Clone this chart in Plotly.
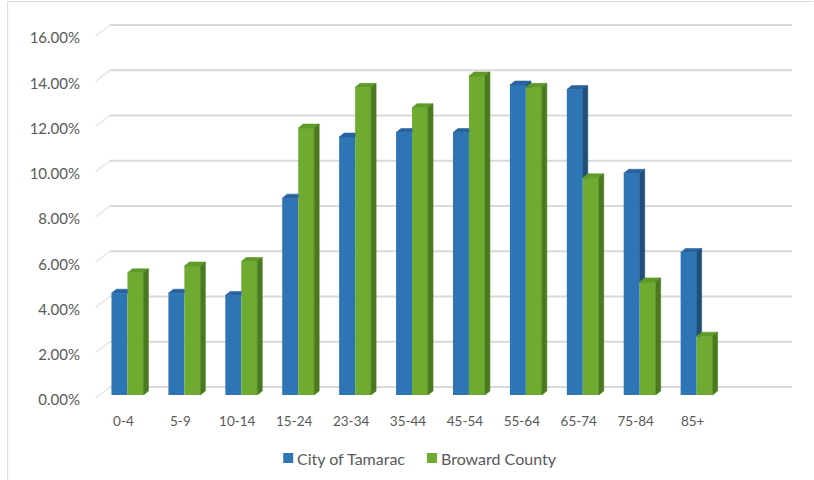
import plotly.graph_objects as go

# Age distribution, share of population (%)
age_groups = ["0-4", "5-9", "10-14", "15-24", "23-34", "35-44",
              "45-54", "55-64", "65-74", "75-84", "85+"]
tamarac = [4.5, 4.5, 4.4, 8.7, 11.4, 11.6, 11.6, 13.7, 13.5, 9.8, 6.3]
broward = [5.4, 5.7, 5.9, 11.8, 13.6, 12.7, 14.1, 13.6, 9.6, 5.0, 2.6]
series_names = ["City of Tamarac", "Broward County"]
y_ticks = [0, 2, 4, 6, 8, 10, 12, 14, 16]
y_tick_text = ["%.2f%%" % v for v in y_ticks]

# page / plot geometry (pixels)
W_PX, H_PX = 814, 480
L, R, T, B = 98.5, 782.5, 33.0, 395.0
PW, PH = R - L, B - T
N_SLOTS = 12
Y_MAX = 16
ux = PW / N_SLOTS          # px per category unit
uy = PH / Y_MAX            # px per percent

BAR_W = 16 / ux            # front face width of one bar
DX = 5 / ux                # bar depth (x)
DY = 4 / uy                # bar depth (y)

BLUE = dict(front="#2E75B6", top="#26639F", side="#1F4E79")
GREEN = dict(front="#6EAB30", top="#5E9A28", side="#4B7A1E")
GRID = "#d9d9d9"
TEXT = "#595959"
FONT = "Lato"


def px_x(px):
    return (px - L) / PW


def px_y(py):
    return (B - py) / PH


x_pos = list(range(len(age_groups)))

fig = go.Figure()

# front faces of the columns
fig.add_trace(go.Bar(x=x_pos, y=tamarac, width=BAR_W, offset=-BAR_W,
                     marker=dict(color=BLUE["front"], line=dict(width=0)),
                     name=series_names[0], showlegend=False))
fig.add_trace(go.Bar(x=x_pos, y=broward, width=BAR_W, offset=0,
                     marker=dict(color=GREEN["front"], line=dict(width=0)),
                     name=series_names[1], showlegend=False))


def poly(xs, ys, color):
    fig.add_trace(go.Scatter(x=xs + [xs[0]], y=ys + [ys[0]], mode="lines",
                             fill="toself", fillcolor=color,
                             line=dict(width=0.6, color=color),
                             hoverinfo="skip", showlegend=False))


# top and side faces (depth) of each column
for i in x_pos:
    b, g = tamarac[i], broward[i]
    # blue column: left edge x0, right edge x1 (green front starts at x1)
    x0, x1 = i - BAR_W, i
    if b >= g:
        poly([x0, x1, x1 + DX, x0 + DX], [b, b, b + DY, b + DY], BLUE["top"])
        poly([x1, x1, x1 + DX, x1 + DX], [g, b, b + DY, g], BLUE["side"])
    else:
        poly([x0, x1, x1, x0 + DX], [b, b, b + DY, b + DY], BLUE["top"])
    # green column
    x0, x1 = i, i + BAR_W
    poly([x0, x1, x1 + DX, x0 + DX], [g, g, g + DY, g + DY], GREEN["top"])
    poly([x1, x1, x1 + DX, x1 + DX], [0, g, g + DY, DY], GREEN["side"])

shapes = []
# back-wall gridlines with their slanted floor/side segment
for v in y_ticks:
    yb = px_y(B - v * uy - 8)
    yf = px_y(B - v * uy + 3)
    shapes.append(dict(type="line", xref="paper", yref="paper",
                       x0=px_x(95), y0=yf, x1=px_x(109.5), y1=yb,
                       line=dict(color="#e3e3e3", width=1.3), layer="below"))
    shapes.append(dict(type="line", xref="paper", yref="paper",
                       x0=px_x(109.5), y0=yb, x1=px_x(792.5), y1=yb,
                       line=dict(color=GRID, width=2), layer="below"))

# chart frame (top and left edges)
shapes.append(dict(type="line", xref="paper", yref="paper",
                   x0=px_x(7), y0=px_y(1.5), x1=px_x(814), y1=px_y(1.5),
                   line=dict(color=GRID, width=1)))
shapes.append(dict(type="line", xref="paper", yref="paper",
                   x0=px_x(7), y0=px_y(1.5), x1=px_x(7), y1=px_y(480),
                   line=dict(color=GRID, width=1)))

# legend
annotations = []
legend_items = [(283, series_names[0], BLUE["front"]),
                (427, series_names[1], GREEN["front"])]
for x_px, label, color in legend_items:
    shapes.append(dict(type="rect", xref="paper", yref="paper",
                       x0=px_x(x_px), x1=px_x(x_px + 10),
                       y0=px_y(463), y1=px_y(453),
                       fillcolor=color, line=dict(width=0)))
    annotations.append(dict(xref="paper", yref="paper",
                            x=px_x(x_px + 12), y=px_y(458.5),
                            xanchor="left", yanchor="middle",
                            text=label, showarrow=False,
                            font=dict(family=FONT, size=16, color=TEXT)))

fig.update_layout(
    width=W_PX, height=H_PX, autosize=False,
    margin=dict(l=L, r=W_PX - R, t=T, b=H_PX - B, pad=0),
    paper_bgcolor="white", plot_bgcolor="rgba(0,0,0,0)",
    barmode="overlay",
    shapes=shapes, annotations=annotations,
    showlegend=False,
    xaxis=dict(range=[-0.5, N_SLOTS - 0.5], tickvals=x_pos, ticktext=age_groups,
               showgrid=False, zeroline=False, showline=False, ticks="",
               ticklabelshift=-4, ticklabelstandoff=16,
               tickfont=dict(family=FONT, size=13.5, color=TEXT), fixedrange=True),
    yaxis=dict(range=[0, Y_MAX], tickvals=y_ticks, ticktext=y_tick_text,
               showgrid=False, zeroline=False, showline=False, ticks="",
               ticklabelshift=5, ticklabelstandoff=18,
               tickfont=dict(family=FONT, size=15, color=TEXT), fixedrange=True),
)

fig.write_html("out.html")
